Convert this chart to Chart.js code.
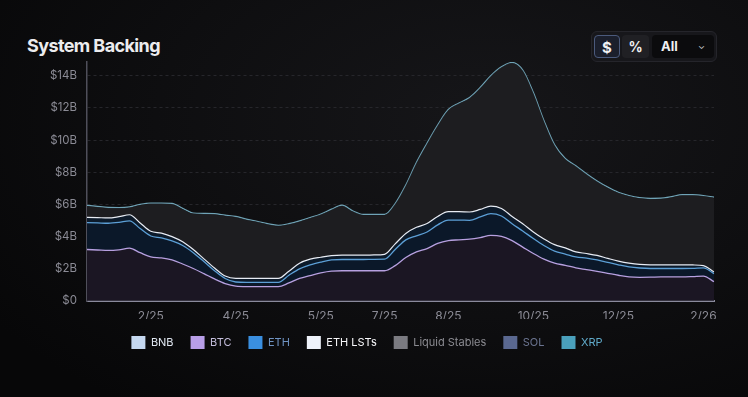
<!DOCTYPE html>
<html>
<head>
<meta charset="utf-8">
<script src="https://cdn.jsdelivr.net/npm/chart.js@4.4.1/dist/chart.umd.min.js"></script>
<style>
  html, body { margin: 0; padding: 0; }
  body {
    width: 748px; height: 397px; overflow: hidden; position: relative;
    background: radial-gradient(ellipse 80% 90% at 65% 30%, #161619 0%, #0e0e10 55%, #070708 100%);
    font-family: Inter, Roboto, sans-serif;
  }
  .title { position: absolute; left: 27px; top: 36px; font-size: 18px; font-weight: 700; color: #ececee; letter-spacing: -0.6px; line-height: 20px; }
  .controls { position: absolute; left: 591px; top: 31px; width: 124px; height: 29px; background: #17171b; border: 1px solid #25252b; border-radius: 6px; }
  .btn { position: absolute; top: 3px; height: 23px; border-radius: 4px; color: #f0f0f2; font-weight: 700; text-align: center; line-height: 23px; box-sizing: border-box; }
  .b1 { left: 2px; width: 26px; background: #1b1f2c; border: 1px solid #4b5a7c; font-size: 15px; }
  .b2 { left: 30px; width: 27px; background: #202024; font-size: 14px; }
  .b3 { left: 60px; width: 62px; background: #0b0b0d; font-size: 13px; text-align: left; padding-left: 9px; }
  .b3 span { position: absolute; right: 9px; top: -1px; font-size: 9px; font-weight: 400; color: #cfcfd4; }
  #wrap { position: absolute; left: 20px; top: 40px; width: 710px; height: 330px; }
</style>
</head>
<body>
<div class="title">System Backing</div>
<div class="controls">
  <div class="btn b1">$</div>
  <div class="btn b2">%</div>
  <div class="btn b3">All<span>&#8964;</span></div>
</div>
<div id="wrap"><canvas id="chart"></canvas></div>
<script>
// month label of each snapshot; only some are shown on the axis
const dates = [
  '12/24','12/24','1/25','1/25','1/25','1/25','2/25','2/25','2/25','3/25',
  '3/25','3/25','3/25','4/25','4/25','4/25','4/25','4/25','4/25','5/25',
  '5/25','5/25','5/25','6/25','6/25','6/25','7/25','7/25','7/25','7/25',
  '8/25','8/25','8/25','8/25','8/25','9/25','9/25','9/25','9/25','10/25',
  '10/25','10/25','10/25','11/25','11/25','11/25','11/25','12/25','12/25','12/25',
  '12/25','1/26','1/26','1/26','1/26','2/26','2/26','2/26','2/26','2/26'
];
const tickIdx = [6, 14, 22, 28, 34, 42, 50, 58];
const tickLabels = ['2/25', '4/25', '5/25', '7/25', '8/25', '10/25', '12/25', '2/26'];
const yTicks = [0, 2, 4, 6, 8, 10, 12, 14];

// values in $B, one per snapshot
const bnb = [
  0.03,0.03,0.03,0.03,0.03,0.03,0.03,0.03,0.03,0.03,
  0.03,0.03,0.03,0.03,0.03,0.03,0.03,0.03,0.03,0.03,
  0.03,0.03,0.03,0.03,0.03,0.03,0.03,0.03,0.03,0.03,
  0.03,0.03,0.03,0.03,0.03,0.03,0.03,0.03,0.03,0.03,
  0.03,0.03,0.03,0.03,0.03,0.03,0.03,0.03,0.03,0.03,
  0.03,0.03,0.03,0.03,0.03,0.03,0.03,0.03,0.03,0.03
];
const btc = [
  3.17,3.14,3.11,3.15,3.25,2.97,2.71,2.65,2.52,2.27,
  1.99,1.67,1.34,1.05,0.89,0.86,0.86,0.86,0.86,1.09,
  1.37,1.55,1.72,1.83,1.85,1.85,1.85,1.85,1.85,2.17,
  2.67,3.02,3.23,3.55,3.72,3.77,3.81,3.91,4.05,3.99,
  3.72,3.32,2.92,2.57,2.32,2.19,2.03,1.92,1.81,1.69,
  1.57,1.47,1.44,1.45,1.47,1.47,1.47,1.49,1.52,1.17
];
const eth = [
  1.67,1.68,1.69,1.70,1.70,1.50,1.30,1.24,1.18,1.15,
  0.98,0.75,0.51,0.32,0.26,0.27,0.27,0.27,0.27,0.48,
  0.60,0.67,0.67,0.69,0.70,0.70,0.70,0.71,0.72,1.00,
  1.10,1.00,1.03,1.15,1.28,1.23,1.17,1.28,1.35,1.26,
  1.05,1.00,0.93,0.85,0.75,0.70,0.68,0.71,0.71,0.68,
  0.65,0.62,0.58,0.54,0.52,0.52,0.52,0.51,0.51,0.50
];
const ethLsts = [
  0.33,0.33,0.33,0.36,0.38,0.35,0.29,0.30,0.27,0.23,
  0.20,0.17,0.17,0.15,0.22,0.24,0.24,0.24,0.24,0.25,
  0.35,0.35,0.30,0.27,0.27,0.27,0.27,0.27,0.30,0.35,
  0.40,0.53,0.52,0.52,0.52,0.52,0.52,0.47,0.47,0.47,
  0.45,0.45,0.41,0.40,0.40,0.38,0.31,0.29,0.28,0.25,
  0.23,0.23,0.22,0.23,0.23,0.23,0.23,0.21,0.14,0.10
];
const liquidStables = [
  0.68,0.63,0.59,0.50,0.42,1.09,1.69,1.80,2.00,2.01,
  2.20,2.76,3.31,3.72,3.79,3.62,3.49,3.34,3.24,2.89,
  2.56,2.52,2.62,2.82,3.04,2.69,2.47,2.46,2.42,2.44,
  2.94,3.96,4.93,5.62,6.29,6.69,7.05,7.51,8.04,8.74,
  9.51,9.49,8.60,7.29,6.14,5.49,5.29,4.89,4.56,4.36,
  4.21,4.14,4.09,4.06,4.07,4.17,4.29,4.30,4.29,4.59
];
const sol = [
  0.03,0.03,0.03,0.03,0.03,0.03,0.03,0.03,0.03,0.03,
  0.03,0.03,0.03,0.03,0.03,0.03,0.03,0.03,0.03,0.03,
  0.03,0.03,0.03,0.03,0.03,0.03,0.03,0.03,0.03,0.03,
  0.03,0.03,0.03,0.03,0.03,0.03,0.03,0.03,0.03,0.03,
  0.03,0.03,0.03,0.03,0.03,0.03,0.03,0.03,0.03,0.03,
  0.03,0.03,0.03,0.03,0.03,0.03,0.03,0.03,0.03,0.03
];
const xrp = [
  0.03,0.03,0.03,0.03,0.03,0.03,0.03,0.03,0.03,0.03,
  0.03,0.03,0.03,0.03,0.03,0.03,0.03,0.03,0.03,0.03,
  0.03,0.03,0.03,0.03,0.03,0.03,0.03,0.03,0.03,0.03,
  0.03,0.03,0.03,0.03,0.03,0.03,0.03,0.03,0.03,0.03,
  0.03,0.03,0.03,0.03,0.03,0.03,0.03,0.03,0.03,0.03,
  0.03,0.03,0.03,0.03,0.03,0.03,0.03,0.03,0.03,0.03
];

const names = ['BNB', 'BTC', 'ETH', 'ETH LSTs', 'Liquid Stables', 'SOL', 'XRP'];
const series = [bnb, btc, eth, ethLsts, liquidStables, sol, xrp];
const lineColors = ['#c6d9f1', '#b7a0e0', '#5c9fd6', '#e8ecf4', '#7a7a82', '#5b6a92', '#6fa3b6'];
const lineWidths = [0, 1.3, 1.3, 1.2, 0, 0, 1.4];
const fillColors = ['#1b1623', '#1b1623', '#0b1829', '#0c1a2a', '#1d1d20', '#1d1d20', '#1d1d20'];
const swatches = ['#c5d8f0', '#b89ee8', '#3a8fe0', '#eef2fa', '#7b7b81', '#5a6890', '#4aa0bc'];
const legendText = ['#dfe6f0', '#c3bddb', '#6f93c2', '#f7f7fa', '#8b8b91', '#6b7490', '#5fa9c9'];

Chart.defaults.font.family = 'Inter, Roboto, sans-serif';

new Chart(document.getElementById('chart'), {
  type: 'line',
  data: {
    labels: dates,
    datasets: series.map((d, i) => ({
      label: names[i],
      data: d,
      borderColor: lineColors[i],
      borderWidth: lineWidths[i],
      backgroundColor: fillColors[i],
      fill: i === 0 ? 'origin' : '-1',
      pointRadius: 0,
      tension: 0.4,
      cubicInterpolationMode: 'monotone'
    }))
  },
  options: {
    responsive: true,
    maintainAspectRatio: false,
    animation: false,
    layout: { padding: { top: 22, right: 16, left: 0, bottom: 11 } },
    plugins: {
      tooltip: { enabled: false },
      legend: {
        position: 'bottom',
        labels: {
          boxWidth: 14,
          boxHeight: 13,
          padding: 17,
          font: { size: 11 },
          generateLabels: chart => names.map((n, i) => ({
            text: n,
            fillStyle: swatches[i],
            strokeStyle: swatches[i],
            lineWidth: 0,
            fontColor: legendText[i],
            hidden: false,
            datasetIndex: i
          }))
        }
      }
    },
    scales: {
      x: {
        grid: { display: false, drawTicks: false },
        border: { display: true, color: '#8a8a9c', width: 2 },
        ticks: {
          autoSkip: false,
          maxRotation: 0,
          padding: 8,
          color: '#8b8b95',
          font: { size: 12 },
          callback: (v, i) => {
            const k = tickIdx.indexOf(i);
            return k >= 0 ? tickLabels[k] : '';
          }
        },
        afterFit: s => { s.height = 18; }
      },
      y: {
        stacked: true,
        min: 0,
        max: 14.85,
        grid: { color: '#26262b', drawTicks: false },
        border: { display: true, color: '#4f4f5a', width: 1.5, dash: [3, 3] },
        afterBuildTicks: s => { s.ticks = yTicks.map(v => ({ value: v })); },
        ticks: {
          padding: 10,
          color: '#8b8b95',
          font: { size: 11.5 },
          callback: v => v === 0 ? '$0' : '$' + v + 'B'
        },
        afterFit: s => { s.width = 67; }
      }
    }
  }
});
</script>
</body>
</html>
